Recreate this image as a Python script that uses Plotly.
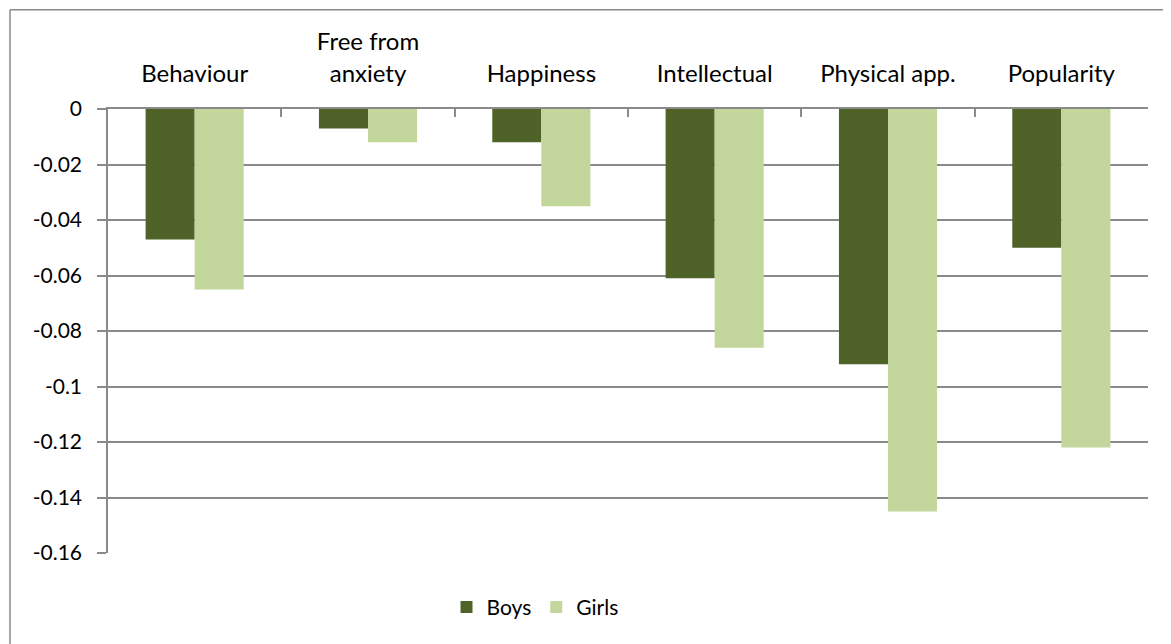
import plotly.graph_objects as go

categories = ["Behaviour", "Free from<br>anxiety", "Happiness", "Intellectual", "Physical app.", "Popularity"]
boys = [-0.047, -0.007, -0.012, -0.061, -0.092, -0.050]
girls = [-0.065, -0.012, -0.035, -0.086, -0.145, -0.122]
y_tick_vals = [0, -0.02, -0.04, -0.06, -0.08, -0.1, -0.12, -0.14, -0.16]
y_tick_text = ["0", "-0.02", "-0.04", "-0.06", "-0.08", "-0.1", "-0.12", "-0.14", "-0.16"]

FONT = "Lato, Calibri, Carlito, sans-serif"
GRID = "#8a8a8a"

fig = go.Figure()
fig.add_trace(go.Bar(name="Boys", x=categories, y=boys, marker=dict(color="#4F6228", line=dict(width=0))))
fig.add_trace(go.Bar(name="Girls", x=categories, y=girls, marker=dict(color="#C3D69B", line=dict(width=0))))

# page body has an 8px margin: screen coordinate = figure coordinate + 8
OFF = 8
SW, SH = 1171, 644
W, H = SW - OFF, SH - OFF
# plot area in screen pixels
PX0, PX1, PY0, PY1 = 108, 1148, 108.5, 553.5
L, T = PX0 - OFF, PY0 - OFF
R, B = W - (PX1 - OFF), H - (PY1 - OFF)
pw, ph = PX1 - PX0, PY1 - PY0

def px_x(p):
    return (p - PX0) / pw

def px_y(p):
    return (PY1 - p) / ph

fig.update_layout(
    width=W, height=H,
    margin=dict(l=L, r=R, t=T, b=B, pad=0),
    autosize=False,
    paper_bgcolor="white", plot_bgcolor="white",
    barmode="group", bargap=0.434, bargroupgap=0,
    font=dict(family=FONT, size=22, color="#000000"),
    showlegend=True,
    legend=dict(orientation="h", x=px_x(535), xanchor="center", y=px_y(608), yanchor="middle",
                font=dict(family=FONT, size=21, color="#000000"), bgcolor="rgba(0,0,0,0)",
                itemwidth=30, traceorder="normal"),
    xaxis=dict(side="top", type="category", showgrid=False, showline=True, linecolor=GRID, linewidth=1.5,
               ticks="inside", ticklen=8, tickcolor=GRID, tickwidth=1.5, tickson="boundaries",
               ticklabelstandoff=16, tickfont=dict(family=FONT, size=24, color="#000000"),
               zeroline=False, fixedrange=True),
    yaxis=dict(range=[-0.16, 0], tickvals=y_tick_vals, ticktext=y_tick_text, showgrid=True,
               gridcolor=GRID, gridwidth=1.5, showline=True, linecolor=GRID, linewidth=1.5,
               ticks="outside", ticklen=9, tickcolor=GRID, tickwidth=1.5, ticklabelstandoff=11,
               tickfont=dict(family=FONT, size=21, color="#000000"), zeroline=False, fixedrange=True),
    shapes=[
        dict(type="line", xref="paper", yref="paper",
             x0=px_x(10), x1=px_x(SW + 30), y0=px_y(9), y1=px_y(9),
             line=dict(color=GRID, width=1.5), layer="below"),
        dict(type="line", xref="paper", yref="paper",
             x0=px_x(10), x1=px_x(10), y0=px_y(SH + 30), y1=px_y(9),
             line=dict(color=GRID, width=1.5), layer="below"),
    ],
)

fig.write_html("out.html")
